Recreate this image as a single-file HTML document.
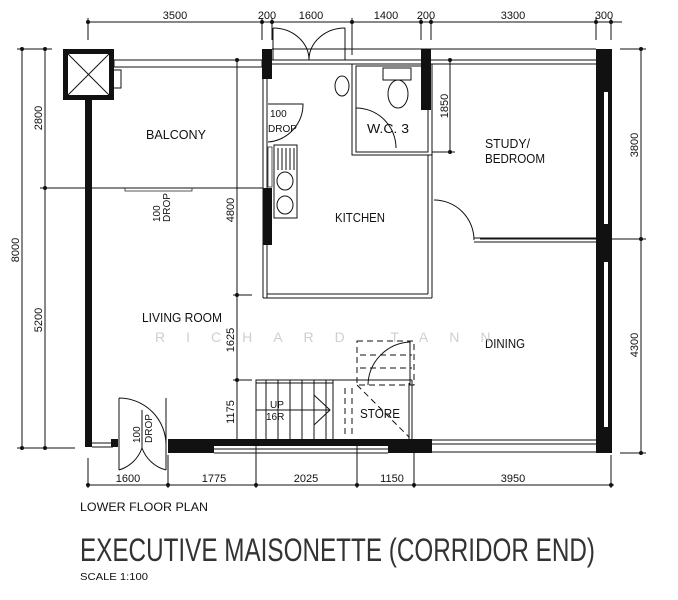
<!DOCTYPE html>
<html><head><meta charset="utf-8"><style>
html,body{margin:0;padding:0;background:#fff;}
svg{display:block;}
text{font-family:"Liberation Sans",sans-serif;fill:#111;}
</style></head><body>
<svg width="678" height="600" viewBox="0 0 678 600" xmlns="http://www.w3.org/2000/svg">
<g stroke="#111" stroke-width="1" fill="none">
<line x1="86" y1="22" x2="622" y2="22"/>
<line x1="88" y1="18" x2="88" y2="40"/><line x1="262" y1="18" x2="262" y2="40"/><line x1="272" y1="18" x2="272" y2="40"/>
<line x1="352" y1="18" x2="352" y2="55"/><line x1="421" y1="18" x2="421" y2="40"/><line x1="431" y1="18" x2="431" y2="40"/>
<line x1="596" y1="18" x2="596" y2="40"/><line x1="611" y1="18" x2="611" y2="40"/>
<line x1="22" y1="49" x2="22" y2="450"/><line x1="45" y1="49" x2="45" y2="450"/>
<line x1="17" y1="49" x2="52" y2="49"/><line x1="40" y1="188" x2="263" y2="188"/><line x1="17" y1="448" x2="75" y2="448"/>
<line x1="641" y1="49" x2="641" y2="455"/>
<line x1="620" y1="49" x2="646" y2="49"/><line x1="480" y1="239" x2="646" y2="239"/><line x1="620" y1="453" x2="646" y2="453"/>
<line x1="86" y1="485" x2="614" y2="485"/>
<line x1="88" y1="458" x2="88" y2="488"/><line x1="168" y1="455" x2="168" y2="488"/><line x1="256" y1="440" x2="256" y2="488"/>
<line x1="357" y1="440" x2="357" y2="488"/><line x1="414" y1="440" x2="414" y2="488"/><line x1="611" y1="455" x2="611" y2="488"/>
<line x1="237" y1="60" x2="237" y2="440"/><line x1="233" y1="295" x2="252" y2="295"/><line x1="233" y1="380" x2="252" y2="380"/>
<line x1="450" y1="60" x2="450" y2="152"/><line x1="432" y1="152" x2="455" y2="152"/>
</g>
<g fill="#111">
<circle cx="88" cy="22" r="2"/><circle cx="262" cy="22" r="2"/><circle cx="272" cy="22" r="2"/><circle cx="352" cy="22" r="2"/><circle cx="421" cy="22" r="2"/><circle cx="431" cy="22" r="2"/><circle cx="596" cy="22" r="2"/><circle cx="611" cy="22" r="2"/>
<circle cx="22" cy="49" r="2"/><circle cx="45" cy="49" r="2"/><circle cx="45" cy="188" r="2"/><circle cx="22" cy="448" r="2"/><circle cx="45" cy="448" r="2"/>
<circle cx="641" cy="49" r="2"/><circle cx="641" cy="239" r="2"/><circle cx="641" cy="453" r="2"/>
<circle cx="88" cy="485" r="2"/><circle cx="168" cy="485" r="2"/><circle cx="256" cy="485" r="2"/><circle cx="357" cy="485" r="2"/><circle cx="414" cy="485" r="2"/><circle cx="611" cy="485" r="2"/>
<circle cx="237" cy="60" r="2"/><circle cx="237" cy="295" r="2"/><circle cx="237" cy="380" r="2"/><circle cx="450" cy="60" r="2"/><circle cx="450" cy="152" r="2"/>
</g>
<g font-size="11" text-anchor="middle">
<text x="175" y="19">3500</text><text x="267" y="19">200</text><text x="311" y="19">1600</text><text x="386" y="19">1400</text><text x="426" y="19">200</text><text x="513" y="19">3300</text><text x="604" y="19">300</text>
<text x="128" y="482">1600</text><text x="214" y="482">1775</text><text x="306" y="482">2025</text><text x="392" y="482">1150</text><text x="513" y="482">3950</text>
<text transform="translate(19,250) rotate(-90)">8000</text>
<text transform="translate(42,118) rotate(-90)">2800</text>
<text transform="translate(42,320) rotate(-90)">5200</text>
<text transform="translate(638,145) rotate(-90)">3800</text>
<text transform="translate(638,345) rotate(-90)">4300</text>
<text transform="translate(234,210) rotate(-90)">4800</text>
<text transform="translate(234,340) rotate(-90)">1625</text>
<text transform="translate(234,412) rotate(-90)">1175</text>
<text transform="translate(448,106) rotate(-90)">1850</text>
</g>

<rect x="65.5" y="51.5" width="46" height="46" fill="none" stroke="#111" stroke-width="5"/>
<line x1="68" y1="54" x2="109" y2="95" stroke="#111"/><line x1="109" y1="54" x2="68" y2="95" stroke="#111"/>
<rect x="113" y="70" width="8" height="18" fill="none" stroke="#111"/>
<rect x="85" y="99" width="7" height="348" fill="#111"/>
<line x1="92" y1="443" x2="113" y2="443" stroke="#111"/><line x1="92" y1="447" x2="113" y2="447" stroke="#111"/>
<rect x="111" y="439" width="7" height="8" fill="#111"/>
<rect x="114" y="60" width="148" height="7" fill="none" stroke="#111"/>
<rect x="125" y="188" width="67" height="3" fill="none" stroke="#111" stroke-width=".7"/>
<rect x="262" y="49" width="10" height="30" fill="#111"/>
<line x1="272" y1="49" x2="596" y2="49" stroke="#111"/>
<line x1="272" y1="60" x2="596" y2="60" stroke="#111"/><line x1="272" y1="64" x2="596" y2="64" stroke="#111"/>
<g stroke="#111" fill="none">
<line x1="273" y1="28" x2="273" y2="60"/><line x1="345" y1="28" x2="345" y2="60"/>
<path d="M273,28 A36,32 0 0 1 309,60"/><path d="M345,28 A36,32 0 0 0 309,60"/>
</g>
<rect x="421" y="49" width="10" height="61" fill="#111"/>
<rect x="596" y="49" width="16" height="404" fill="#111"/>
<rect x="604" y="92" width="4" height="132" fill="#fff"/>
<rect x="604" y="262" width="4" height="165" fill="#fff"/>
<g stroke="#111" fill="none">
<line x1="263" y1="64" x2="263" y2="298"/><line x1="267" y1="64" x2="267" y2="298"/>
<line x1="263" y1="298" x2="432" y2="298"/><line x1="267" y1="294" x2="428" y2="294"/>
<line x1="428" y1="155" x2="428" y2="294"/><line x1="432" y1="155" x2="432" y2="298"/>
<path d="M268,104 L303,104 A38,38 0 0 1 268,142"/>
<rect x="274" y="145" width="23" height="73"/>
<ellipse cx="285" cy="181" rx="8" ry="9"/><ellipse cx="285" cy="205" rx="8" ry="9"/>
<line x1="278" y1="148" x2="278" y2="170"/><line x1="282" y1="148" x2="282" y2="170"/><line x1="286" y1="148" x2="286" y2="170"/><line x1="290" y1="148" x2="290" y2="170"/><line x1="294" y1="148" x2="294" y2="170"/>
<path d="M434,200 A40,40 0 0 1 474,240"/>
<line x1="474" y1="238" x2="596" y2="238"/><line x1="474" y1="242" x2="596" y2="242"/>
<rect x="352" y="64" width="80" height="91"/>
<rect x="356" y="66" width="72" height="86"/>
<rect x="383" y="68" width="28" height="12"/><ellipse cx="398" cy="94" rx="10" ry="14"/>
<path d="M356,108 A40,40 0 0 1 396,148"/>
<ellipse cx="342" cy="86" rx="7" ry="10"/>
<rect x="256" y="380" width="77" height="60"/>
<line x1="256" y1="383" x2="333" y2="383"/>
<line x1="266" y1="380" x2="266" y2="440"/><line x1="278" y1="380" x2="278" y2="440"/><line x1="290" y1="380" x2="290" y2="440"/><line x1="302" y1="380" x2="302" y2="440"/><line x1="314" y1="380" x2="314" y2="440"/><line x1="326" y1="380" x2="326" y2="440"/>
<line x1="256" y1="410" x2="330" y2="410"/><path d="M314,395 L330,410 L314,425"/>
<line x1="333" y1="380" x2="412" y2="380"/><line x1="412" y1="380" x2="412" y2="440"/><line x1="409" y1="383" x2="409" y2="440"/>
<line x1="357" y1="385" x2="409" y2="437" stroke-dasharray="6,4"/>
<line x1="345" y1="388" x2="345" y2="438" stroke-dasharray="6,4"/><line x1="352" y1="388" x2="352" y2="438" stroke-dasharray="6,4"/>
<rect x="357" y="341" width="57" height="44" stroke-dasharray="6,4"/>
<line x1="360" y1="355" x2="412" y2="355" stroke-dasharray="6,4"/><line x1="360" y1="368" x2="412" y2="368" stroke-dasharray="6,4"/>
<line x1="410" y1="341" x2="410" y2="385"/>
<path d="M410,342 A44,44 0 0 0 368,385"/>
<line x1="119" y1="398" x2="119" y2="470"/><line x1="166" y1="398" x2="166" y2="470"/>
<path d="M119,398 A47,47 0 0 1 166,445"/><path d="M119,470 A35,35 0 0 0 142,448"/><path d="M166,470 A35,35 0 0 1 142,448"/>
<line x1="142" y1="410" x2="142" y2="448"/>
</g>
<rect x="263" y="188" width="9" height="57" fill="#111"/>
<rect x="268" y="147" width="4" height="40" fill="#fff" stroke="#111" stroke-width=".7"/>
<rect x="168" y="439" width="264" height="7" fill="#111"/>
<rect x="168" y="446" width="46" height="7" fill="#111"/>
<rect x="388" y="446" width="44" height="7" fill="#111"/>
<g stroke="#111"><line x1="214" y1="449" x2="388" y2="449"/><line x1="214" y1="453" x2="388" y2="453"/>
<line x1="432" y1="440" x2="596" y2="440"/><line x1="432" y1="444" x2="596" y2="444"/><line x1="432" y1="452" x2="596" y2="452"/></g>

<g font-size="13" text-anchor="middle">
<text x="176" y="139" textLength="60" lengthAdjust="spacingAndGlyphs">BALCONY</text>
<text x="485" y="148" text-anchor="start" textLength="45" lengthAdjust="spacingAndGlyphs">STUDY/</text>
<text x="485" y="163" text-anchor="start" textLength="60" lengthAdjust="spacingAndGlyphs">BEDROOM</text>
<text x="360" y="222" textLength="50" lengthAdjust="spacingAndGlyphs">KITCHEN</text>
<text x="182" y="322" textLength="80" lengthAdjust="spacingAndGlyphs">LIVING ROOM</text>
<text x="505" y="348" textLength="40" lengthAdjust="spacingAndGlyphs">DINING</text>
<text x="388" y="133" textLength="42" lengthAdjust="spacingAndGlyphs">W.C. 3</text>
<text x="380" y="418" textLength="40" lengthAdjust="spacingAndGlyphs">STORE</text>
</g>
<g font-size="10">
<text x="270" y="408">UP</text><text x="266" y="420">16R</text>
<text x="270" y="117">100</text><text x="268" y="132">DROP</text>
<text transform="translate(160,222) rotate(-90)">100</text>
<text transform="translate(170,222) rotate(-90)">DROP</text>
<text transform="translate(140,443) rotate(-90)">100</text>
<text transform="translate(152,443) rotate(-90)">DROP</text>
</g>
<text x="155" y="342" font-size="14" style="fill:#cfcfcf" letter-spacing="21">RICHARD TANN</text>

<text x="80" y="511" font-size="12" textLength="128" lengthAdjust="spacingAndGlyphs">LOWER FLOOR PLAN</text>
<text x="80" y="561" font-size="32" textLength="515" lengthAdjust="spacingAndGlyphs" style="fill:#333">EXECUTIVE MAISONETTE (CORRIDOR END)</text>
<text x="80" y="580" font-size="10" textLength="68" lengthAdjust="spacingAndGlyphs">SCALE 1:100</text>
</svg>
</body></html>
